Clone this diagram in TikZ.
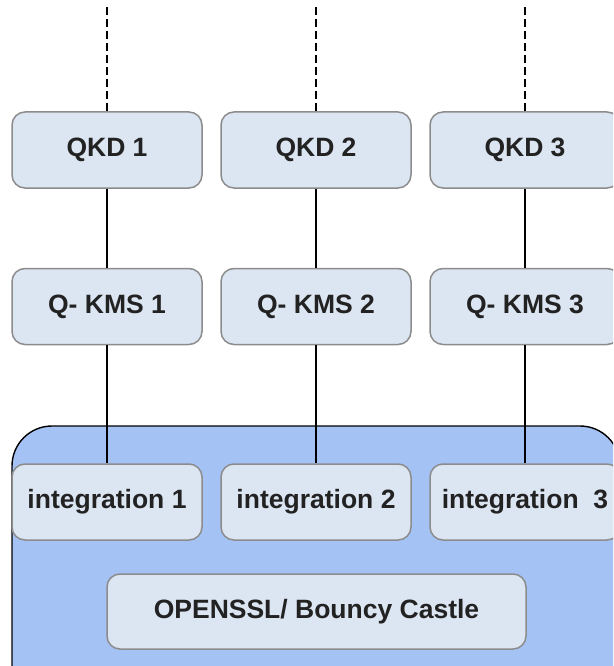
\documentclass[tikz,border=0pt]{standalone}
\usepackage{fontspec}
\setmainfont{Liberation Sans}
\definecolor{boxfill}{HTML}{DCE5F2}
\definecolor{boxline}{HTML}{8C8C8C}
\definecolor{panelfill}{HTML}{A4C2F4}
\definecolor{inktext}{HTML}{222222}
\tikzset{
  unitbox/.style={draw=boxline, fill=boxfill, line width=1.5pt, rounded corners=13pt,
    minimum width=190pt, minimum height=76pt, inner sep=0pt,
    text=inktext, font=\fontsize{26.5}{31}\selectfont\bfseries},
  link/.style={draw=black, line width=1.3pt},
  feed/.style={link, dash pattern=on 8pt off 4pt},
  panel/.style={draw=black, fill=panelfill, line width=1.4pt, rounded corners=40pt}
}
\begin{document}
\begin{tikzpicture}[x=1pt, y=-1pt]
  \useasboundingbox (0,0) rectangle (613,666);
  \clip (0,0) rectangle (613,666);
  % shared library panel behind the integration layer
  \draw[panel] (12,426) rectangle (620,780);
  % free ends of the incoming channels
  \coordinate (t1) at (107,7);
  \coordinate (t2) at (316,7);
  \coordinate (t3) at (525,7);
  % key distribution devices
  \node[unitbox] (q1) at (107,150) {QKD 1};
  \node[unitbox] (q2) at (316,150) {QKD 2};
  \node[unitbox] (q3) at (525,150) {QKD 3};
  % key management systems
  \node[unitbox] (k1) at (107,306.5) {Q- KMS 1};
  \node[unitbox] (k2) at (316,306.5) {Q- KMS 2};
  \node[unitbox] (k3) at (525,306.5) {Q- KMS 3};
  % integration modules
  \node[unitbox] (i1) at (107,502) {integration 1};
  \node[unitbox] (i2) at (316,502) {integration 2};
  \node[unitbox] (i3) at (525,502) {integration\ \ 3};
  % crypto library
  \node[unitbox, minimum width=419pt, minimum height=75pt] (lib) at (316.5,611.5) {OPENSSL/ Bouncy Castle};
  % connectors
  \foreach \n in {1,2,3} {
    \draw[feed] (t\n) -- (q\n.north);
    \draw[link] (q\n.south) -- (k\n.north);
    \draw[link] (k\n.south) -- (i\n.north);
  }
\end{tikzpicture}
\end{document}
